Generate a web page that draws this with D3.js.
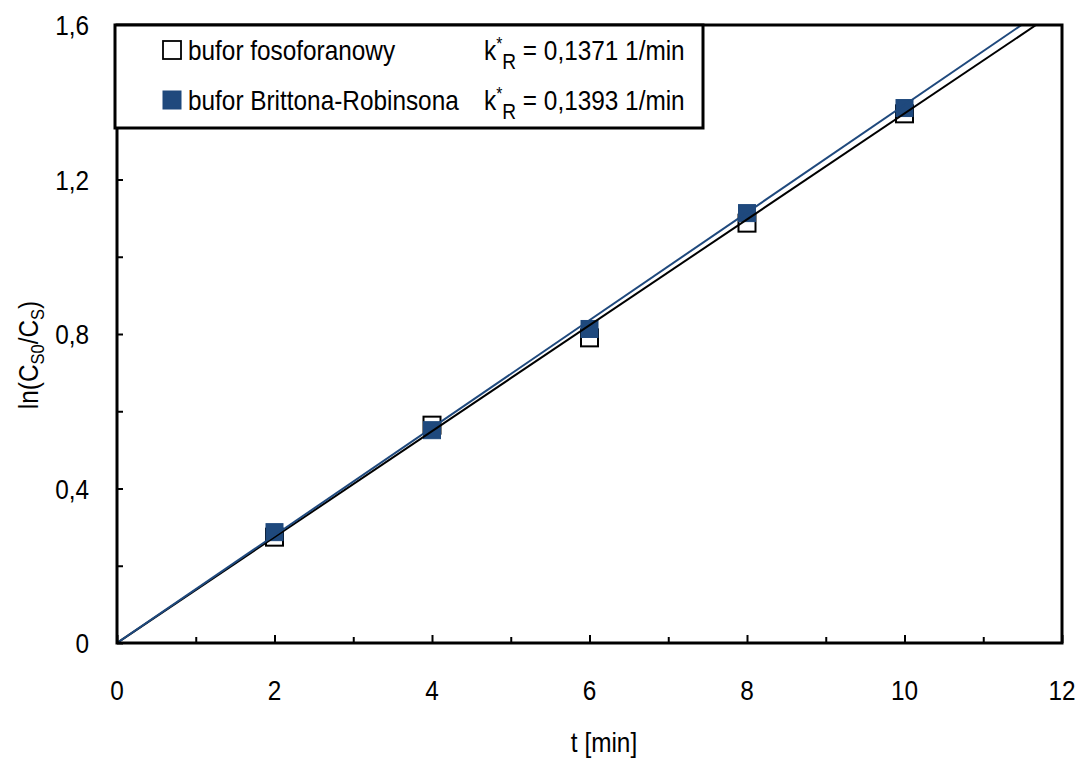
<!DOCTYPE html>
<html>
<head>
<meta charset="utf-8">
<script src="https://cdn.jsdelivr.net/npm/d3@7"></script>
<style>
  html, body { margin: 0; padding: 0; background: #fff; }
  svg text { font-family: "Liberation Sans", Arial, sans-serif; fill: #000; }
</style>
</head>
<body>
<svg id="chart" width="1078" height="758"></svg>
<script>
// Measurement times [min]
const times = [2, 4, 6, 8, 10];
// ln(CS0/CS) for the phosphate buffer
const fosforanowy = [0.274, 0.564, 0.790, 1.087, 1.370];
// ln(CS0/CS) for the Britton-Robinson buffer
const brittonRobinson = [0.287, 0.551, 0.813, 1.113, 1.385];
// Fitted rate constants k*_R [1/min]
const kValues = [0.1371, 0.1393];
const kLabels = ["0,1371", "0,1393"];
const seriesNames = ["bufor fosoforanowy", "bufor Brittona-Robinsona"];
// Axis ticks
const xTickValues = [0, 2, 4, 6, 8, 10, 12];
const yTickValues = [0, 0.4, 0.8, 1.2, 1.6];

const blue = "#1F497D";
const FS = 28, SX = 0.87;

const svg = d3.select("#chart");
const margin = { left: 117, right: 1078 - 1062, top: 25, bottom: 758 - 643 };
const W = 1078, H = 758;

const x = d3.scaleLinear().domain([0, 12]).range([margin.left, W - margin.right]);
const y = d3.scaleLinear().domain([0, 1.6]).range([H - margin.bottom, margin.top]);

const fmt = d => d3.format("")(+d.toFixed(1)).replace(".", ",");

// condensed text helper
function label(g, px, py, str, anchor) {
  return g.append("text")
    .attr("transform", `translate(${px},${py}) scale(${SX},1)`)
    .attr("text-anchor", anchor || "start")
    .attr("font-size", FS)
    .text(str);
}

const plot = svg.append("g");

// clip for fit lines
svg.append("defs").append("clipPath").attr("id", "plotClip")
  .append("rect")
  .attr("x", x(0)).attr("y", y(1.6))
  .attr("width", x(12) - x(0)).attr("height", y(0) - y(1.6));

// markers: open squares (phosphate buffer)
const ms = 17;
plot.append("g").selectAll("rect")
  .data(times.map((t, i) => [t, fosforanowy[i]]))
  .join("rect")
  .attr("x", d => x(d[0]) - ms / 2)
  .attr("y", d => y(d[1]) - ms / 2)
  .attr("width", ms).attr("height", ms)
  .attr("fill", "#fff").attr("stroke", "#000").attr("stroke-width", 2);

// filled squares (Britton-Robinson buffer)
plot.append("g").selectAll("rect")
  .data(times.map((t, i) => [t, brittonRobinson[i]]))
  .join("rect")
  .attr("x", d => x(d[0]) - ms / 2)
  .attr("y", d => y(d[1]) - ms / 2)
  .attr("width", ms).attr("height", ms)
  .attr("fill", blue).attr("stroke", blue).attr("stroke-width", 1);

// fitted lines y = k * t
const lineColors = ["#000", blue];
const line = d3.line().x(d => x(d[0])).y(d => y(d[1]));
kValues.forEach((k, i) => {
  const tEnd = Math.min(12, 1.6 / k);
  plot.append("path")
    .datum([[0, 0], [tEnd, k * tEnd]])
    .attr("d", line)
    .attr("clip-path", "url(#plotClip)")
    .attr("fill", "none")
    .attr("stroke", lineColors[i])
    .attr("stroke-width", 2);
});

// axes with inward ticks
const xAxis = d3.axisBottom(x).tickValues(d3.range(0, 13, 1)).tickSize(0).tickFormat("");
const gx = svg.append("g").attr("transform", `translate(0,${y(0)})`).call(xAxis);
gx.select(".domain").remove();
gx.selectAll(".tick line")
  .attr("y2", d => (d % 2 === 0 ? -8 : -6))
  .attr("stroke", "#000").attr("stroke-width", 2);

const yAxis = d3.axisLeft(y).tickValues(d3.range(0, 1.61, 0.2)).tickSize(0).tickFormat("");
const gy = svg.append("g").attr("transform", `translate(${x(0)},0)`).call(yAxis);
gy.select(".domain").remove();
gy.selectAll(".tick line")
  .attr("x2", 6)
  .attr("stroke", "#000").attr("stroke-width", 2);

// tick labels
xTickValues.forEach(v => label(svg, x(v), 700, String(v), "middle"));
yTickValues.forEach(v => label(svg, 89, y(v) + 10, fmt(v), "end"));

// plot frame
svg.append("rect")
  .attr("x", x(0)).attr("y", y(1.6))
  .attr("width", x(12) - x(0)).attr("height", y(0) - y(1.6))
  .attr("fill", "none").attr("stroke", "#000").attr("stroke-width", 3);

// legend
const lg = svg.append("g");
lg.append("rect")
  .attr("x", 115).attr("y", 25).attr("width", 588).attr("height", 103)
  .attr("fill", "#fff").attr("stroke", "#000").attr("stroke-width", 3);

const rows = [50, 100];
rows.forEach((cy, i) => {
  if (i === 0) {
    lg.append("rect").attr("x", 163).attr("y", cy - 9).attr("width", 18).attr("height", 18)
      .attr("fill", "#fff").attr("stroke", "#000").attr("stroke-width", 1.8);
  } else {
    lg.append("rect").attr("x", 163).attr("y", cy - 9).attr("width", 18).attr("height", 18)
      .attr("fill", blue).attr("stroke", blue).attr("stroke-width", 1);
  }
  label(lg, 188, cy + 10, seriesNames[i]);
  const t = lg.append("text")
    .attr("transform", `translate(484,${cy + 10}) scale(${SX},1)`)
    .attr("font-size", FS);
  t.append("tspan").text("k");
  t.append("tspan").attr("font-size", 18).attr("dy", -10).text("*");
  t.append("tspan").attr("font-size", 22).attr("dy", 19).text("R");
  t.append("tspan").attr("dy", -9).text(` = ${kLabels[i]} 1/min`);
});

// axis titles
label(svg, 604, 752, "t [min]", "middle");

const yt = svg.append("text")
  .attr("transform", `translate(38,355) rotate(-90) scale(${SX},1)`)
  .attr("text-anchor", "middle")
  .attr("font-size", FS);
yt.append("tspan").text("ln(C");
yt.append("tspan").attr("font-size", 19).attr("dy", 6).text("S0");
yt.append("tspan").attr("dy", -6).text("/C");
yt.append("tspan").attr("font-size", 19).attr("dy", 6).text("S");
yt.append("tspan").attr("dy", -6).text(")");
</script>
</body>
</html>
